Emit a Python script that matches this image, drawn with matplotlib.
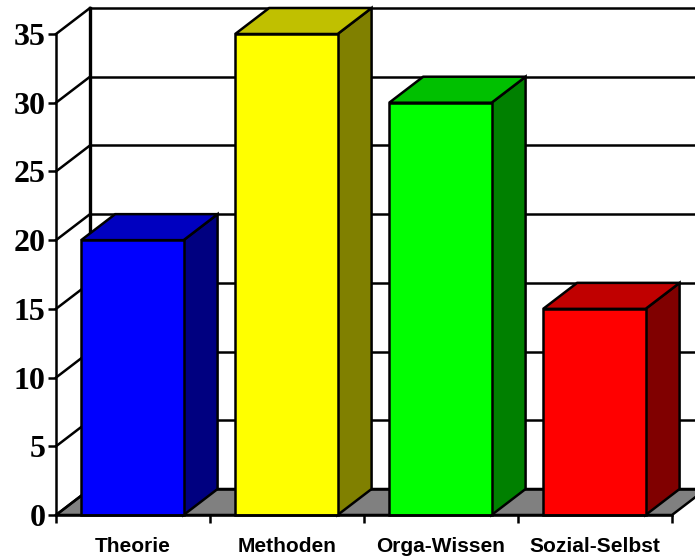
import matplotlib
matplotlib.use("Agg")
import matplotlib.pyplot as plt
from matplotlib.patches import Polygon

# Chart values.
categories = ["Theorie", "Methoden", "Orga-Wissen", "Sozial-Selbst"]
values = [20, 35, 30, 15]
y_ticks = [0, 5, 10, 15, 20, 25, 30, 35]

# Colours per bar: front, top, side.
front_colors = ["#0000FF", "#FFFF00", "#00FF00", "#FF0000"]
top_colors = ["#0000C0", "#C0C000", "#00C000", "#C00000"]
side_colors = ["#000080", "#808000", "#008000", "#800000"]

# Pixel layout of the fake 3D box.
fig_w, fig_h = 695, 559
x0_px, y0_px = 56.0, 515.0
cat_px = 154.0
unit_px = 481.0 / 35
dx = 34.0 / cat_px
dy = 26.0 / unit_px
bar_width = 0.665
line_w = 1.8

fig = plt.figure(figsize=(fig_w / 100, fig_h / 100), dpi=100)
ax = fig.add_axes([0, 0, 1, 1])
ax.set_xlim(-x0_px / cat_px, (fig_w - x0_px) / cat_px)
ax.set_ylim(-(fig_h - y0_px) / unit_px, y0_px / unit_px)
ax.patch.set_visible(False)

n = len(categories)
top = y_ticks[-1]

# Floor.
ax.add_patch(Polygon([(0, 0), (n, 0), (n + dx, dy), (dx, dy)], closed=True,
	facecolor="#808080", edgecolor="black", linewidth=line_w, zorder=1))

# Gridlines on the back wall and the left wall.
for tick in y_ticks:
	ax.plot([dx, n + dx], [tick + dy, tick + dy], color="black", linewidth=line_w, zorder=2)
	ax.plot([0, dx], [tick, tick + dy], color="black", linewidth=line_w, zorder=2)
ax.plot([dx, dx], [dy, top + dy], color="black", linewidth=2.4, zorder=2)

# Bars: side, top, then front.
for i, value in enumerate(values):
	left = i + (1 - bar_width) / 2 - 0.004
	right = left + bar_width
	ax.add_patch(Polygon(
		[(right, 0), (right + dx, dy), (right + dx, value + dy), (right, value)],
		closed=True, facecolor=side_colors[i], edgecolor="black", linewidth=line_w, zorder=3))
	ax.add_patch(Polygon(
		[(left, value), (right, value), (right + dx, value + dy), (left + dx, value + dy)],
		closed=True, facecolor=top_colors[i], edgecolor="black", linewidth=line_w, zorder=3))
	ax.bar(left, value, width=bar_width, align="edge", color=front_colors[i],
		edgecolor="black", linewidth=line_w, zorder=4)

# Real axes, moved to the front edge of the box.
for name in ["top", "right"]:
	ax.spines[name].set_visible(False)
ax.spines["left"].set_position(("data", 0))
ax.spines["bottom"].set_position(("data", 0))
ax.spines["left"].set_bounds(0, top)
ax.spines["bottom"].set_bounds(0, n)
ax.spines["left"].set_linewidth(line_w)
ax.spines["bottom"].set_linewidth(line_w)
ax.spines["left"].set_zorder(5)
ax.spines["bottom"].set_zorder(5)

ax.set_yticks(y_ticks)
ax.set_yticklabels([str(t) for t in y_ticks], family="Liberation Serif",
	fontweight="bold", fontsize=23)
ax.set_xticks(range(n + 1))
ax.set_xticklabels([""] * (n + 1))
ax.tick_params(axis="y", length=6, width=line_w, pad=1.5)
ax.tick_params(axis="x", length=6, width=line_w)

# Category labels sit between the ticks.
for i, name in enumerate(categories):
	ax.annotate(name, xy=(i + 0.5, 0), xytext=(0, -31), textcoords="offset pixels",
		ha="center", va="center", family="Liberation Sans", fontweight="bold", fontsize=15)

fig.savefig("out.png", dpi=100)
plt.close("all")
